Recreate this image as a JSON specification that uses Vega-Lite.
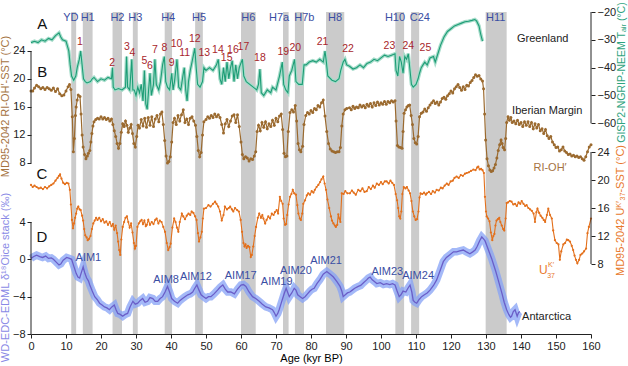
{
"$schema":"https://vega.github.io/schema/vega-lite/v6.json",
"width":560,"height":322,
"autosize":{"type":"none"},
"padding":{"left":31,"top":12,"right":37,"bottom":32},
"background":"white",
"config":{"view":{"stroke":null},"font":"Liberation Sans",
 "axis":{"grid":false,"labelFontSize":11,"labelColor":"#222","tickColor":"#222","domainColor":"#222","tickSize":4,"titleFontSize":11,"titleFontWeight":"normal","labelPadding":2}},
"datasets":{
"bands":[{"t":11.5,"t2":12.9},{"t":14.8,"t2":17.6},{"t":23.3,"t2":26.0},{"t":29.1,"t2":30.5},{"t":38.2,"t2":40.3},{"t":46.9,"t2":49.1},{"t":60.0,"t2":64.2},{"t":72.0,"t2":73.6},{"t":75.4,"t2":78.0},{"t":84.3,"t2":89.5},{"t":104.1,"t2":106.6},{"t":108.6,"t2":110.9},{"t":129.9,"t2":135.9}],
"hlab":[{"t":11.4,"v":-22.3,"s":"YD"},{"t":16.2,"v":-22.3,"s":"H1"},{"t":24.7,"v":-22.3,"s":"H2"},{"t":29.8,"v":-22.3,"s":"H3"},{"t":39.2,"v":-22.3,"s":"H4"},{"t":48.0,"v":-22.3,"s":"H5"},{"t":62.1,"v":-22.3,"s":"H6"},{"t":70.9,"v":-22.3,"s":"H7a"},{"t":78.1,"v":-22.3,"s":"H7b"},{"t":86.9,"v":-22.3,"s":"H8"},{"t":104.0,"v":-22.3,"s":"H10"},{"t":111.1,"v":-22.3,"s":"C24"},{"t":132.8,"v":-22.3,"s":"H11"}],
"numlab":[{"t":14.0,"v":-30.9,"s":"1"},{"t":23.2,"v":-38.4,"s":"2"},{"t":27.4,"v":-32.7,"s":"3"},{"t":29.0,"v":-34.6,"s":"4"},{"t":32.4,"v":-37.7,"s":"5"},{"t":34.0,"v":-39.5,"s":"6"},{"t":35.4,"v":-33.7,"s":"7"},{"t":38.1,"v":-33.0,"s":"8"},{"t":40.2,"v":-38.4,"s":"9"},{"t":41.6,"v":-31.6,"s":"10"},{"t":43.9,"v":-34.6,"s":"11"},{"t":46.8,"v":-29.8,"s":"12"},{"t":49.5,"v":-34.6,"s":"13"},{"t":53.4,"v":-33.7,"s":"14"},{"t":55.9,"v":-36.6,"s":"15"},{"t":57.7,"v":-33.7,"s":"16"},{"t":60.7,"v":-32.7,"s":"17"},{"t":65.4,"v":-36.4,"s":"18"},{"t":72.1,"v":-34.5,"s":"19"},{"t":75.5,"v":-32.8,"s":"20"},{"t":83.3,"v":-30.9,"s":"21"},{"t":90.6,"v":-33.3,"s":"22"},{"t":102.4,"v":-32.2,"s":"23"},{"t":107.8,"v":-32.1,"s":"24"},{"t":112.7,"v":-33.0,"s":"25"}],
"aimlab":[{"t":16.4,"v":0.17,"s":"AIM1"},{"t":38.6,"v":-2.21,"s":"AIM8"},{"t":47.1,"v":-1.93,"s":"AIM12"},{"t":59.9,"v":-1.75,"s":"AIM17"},{"t":70.2,"v":-2.46,"s":"AIM19"},{"t":75.7,"v":-1.22,"s":"AIM20"},{"t":84.3,"v":-0.15,"s":"AIM21"},{"t":101.8,"v":-1.33,"s":"AIM23"},{"t":110.6,"v":-1.79,"s":"AIM24"}],
"gis":[{"t":0,"v":-31},{"t":1,"v":-30.5},{"t":2,"v":-31},{"t":3,"v":-30},{"t":4,"v":-30.5},{"t":5,"v":-29.5},{"t":6,"v":-30},{"t":7,"v":-28.5},{"t":8,"v":-27.5},{"t":8.5,"v":-29},{"t":9,"v":-30},{"t":10,"v":-30.5},{"t":10.8,"v":-34},{"t":11.2,"v":-39},{"t":11.6,"v":-43},{"t":12.2,"v":-44.5},{"t":12.8,"v":-43},{"t":13.2,"v":-40},{"t":13.8,"v":-37},{"t":14.2,"v":-34},{"t":14.6,"v":-39},{"t":15,"v":-44},{"t":15.5,"v":-45},{"t":16,"v":-45.5},{"t":17,"v":-45},{"t":17.5,"v":-44},{"t":18,"v":-43.5},{"t":19,"v":-45},{"t":20,"v":-44},{"t":21,"v":-44.5},{"t":22,"v":-43.5},{"t":23,"v":-44},{"t":23.3,"v":-40},{"t":23.5,"v":-47},{"t":24,"v":-48},{"t":25,"v":-47.5},{"t":26,"v":-48},{"t":27,"v":-47},{"t":27.3,"v":-36},{"t":27.6,"v":-47},{"t":28.2,"v":-48},{"t":28.8,"v":-37},{"t":29.1,"v":-48},{"t":29.5,"v":-48},{"t":30,"v":-50},{"t":30.5,"v":-47},{"t":31,"v":-49},{"t":31.5,"v":-46},{"t":32,"v":-52},{"t":32.4,"v":-41},{"t":32.8,"v":-53},{"t":33.2,"v":-55},{"t":33.6,"v":-48},{"t":34,"v":-42},{"t":34.4,"v":-50},{"t":35,"v":-46},{"t":35.4,"v":-37},{"t":35.8,"v":-46},{"t":36.5,"v":-48},{"t":37,"v":-45},{"t":37.6,"v":-39},{"t":38.1,"v":-36},{"t":38.5,"v":-45},{"t":39,"v":-47},{"t":39.6,"v":-48},{"t":40.2,"v":-42},{"t":40.6,"v":-48},{"t":41,"v":-45},{"t":41.7,"v":-37},{"t":42.2,"v":-47},{"t":42.8,"v":-48},{"t":43.4,"v":-43},{"t":43.8,"v":-40},{"t":44.2,"v":-48},{"t":44.6,"v":-52},{"t":45,"v":-45},{"t":45.5,"v":-41},{"t":46,"v":-38},{"t":46.8,"v":-33},{"t":47.2,"v":-40},{"t":47.6,"v":-46},{"t":48.3,"v":-47},{"t":49,"v":-45},{"t":49.4,"v":-40},{"t":50,"v":-41},{"t":51,"v":-40},{"t":52,"v":-41},{"t":53,"v":-39},{"t":53.5,"v":-37},{"t":54,"v":-44},{"t":54.5,"v":-46},{"t":55,"v":-40},{"t":55.5,"v":-45},{"t":56,"v":-38},{"t":56.5,"v":-44},{"t":57,"v":-40},{"t":57.5,"v":-37.5},{"t":58,"v":-45},{"t":58.5,"v":-39},{"t":59,"v":-44},{"t":59.5,"v":-40},{"t":60.4,"v":-37},{"t":60.8,"v":-43},{"t":61.5,"v":-45},{"t":62.5,"v":-46},{"t":63.5,"v":-47},{"t":64.5,"v":-48},{"t":65,"v":-46},{"t":65.4,"v":-40.5},{"t":65.8,"v":-49},{"t":66.5,"v":-50},{"t":67.5,"v":-48},{"t":68.5,"v":-49},{"t":69,"v":-47},{"t":70,"v":-48},{"t":71,"v":-43},{"t":71.8,"v":-38},{"t":72.2,"v":-46},{"t":72.8,"v":-48},{"t":73.4,"v":-49},{"t":73.8,"v":-43},{"t":74.5,"v":-41},{"t":75.3,"v":-37},{"t":75.7,"v":-45},{"t":76.5,"v":-46},{"t":77.5,"v":-46},{"t":78,"v":-39},{"t":78.6,"v":-39},{"t":79.5,"v":-38},{"t":80.5,"v":-37.5},{"t":81.5,"v":-38},{"t":82.5,"v":-37},{"t":83.5,"v":-38},{"t":84,"v":-34},{"t":84.4,"v":-38},{"t":84.8,"v":-43},{"t":86,"v":-44.5},{"t":87,"v":-45},{"t":88,"v":-44},{"t":88.5,"v":-41},{"t":89.2,"v":-38},{"t":89.7,"v":-37},{"t":90.2,"v":-39},{"t":91,"v":-39.5},{"t":92,"v":-40.5},{"t":93,"v":-40},{"t":94,"v":-39},{"t":95,"v":-40},{"t":96,"v":-38.5},{"t":97,"v":-38},{"t":98,"v":-37},{"t":99,"v":-37.5},{"t":100,"v":-36.5},{"t":101,"v":-35.5},{"t":102,"v":-36},{"t":103,"v":-35.5},{"t":104,"v":-35},{"t":104.3,"v":-41},{"t":104.8,"v":-43},{"t":105.3,"v":-36},{"t":105.8,"v":-38},{"t":106.3,"v":-42},{"t":106.8,"v":-36},{"t":107.3,"v":-37},{"t":107.8,"v":-35},{"t":108.3,"v":-41},{"t":108.7,"v":-46},{"t":109.2,"v":-47},{"t":110,"v":-46},{"t":110.6,"v":-44},{"t":111,"v":-42},{"t":111.5,"v":-40},{"t":112,"v":-39},{"t":112.5,"v":-38},{"t":113.2,"v":-39},{"t":114,"v":-36.5},{"t":115,"v":-36},{"t":115.5,"v":-38},{"t":116,"v":-36},{"t":117,"v":-32},{"t":118,"v":-29},{"t":119,"v":-27},{"t":120,"v":-26},{"t":121,"v":-25},{"t":122,"v":-24.5},{"t":123,"v":-24},{"t":124,"v":-23.5},{"t":125,"v":-23.3},{"t":126,"v":-23},{"t":126.8,"v":-22.7},{"t":127.3,"v":-23.2},{"t":128,"v":-25},{"t":128.5,"v":-28},{"t":129,"v":-30.5}],
"rioh":[{"t":0,"v":18.3},{"t":0.5,"v":18.3},{"t":1,"v":18.7},{"t":1.6,"v":19.1},{"t":2.2,"v":18.9},{"t":2.8,"v":18.6},{"t":3.4,"v":18.8},{"t":4,"v":18.5},{"t":4.6,"v":18.8},{"t":5.2,"v":18.6},{"t":5.8,"v":18.4},{"t":6.4,"v":18.7},{"t":7,"v":18.2},{"t":7.6,"v":18.6},{"t":8.2,"v":17.9},{"t":8.8,"v":17.6},{"t":9.4,"v":17.7},{"t":10,"v":18.3},{"t":10.6,"v":18.9},{"t":11,"v":19.2},{"t":11.4,"v":18.5},{"t":11.8,"v":14.6},{"t":12.1,"v":9.6},{"t":12.4,"v":11.5},{"t":12.7,"v":14.8},{"t":12.9,"v":16},{"t":13.2,"v":17},{"t":13.5,"v":17.7},{"t":14,"v":17.5},{"t":14.3,"v":15},{"t":14.6,"v":12},{"t":14.9,"v":10.3},{"t":15.3,"v":9.2},{"t":15.7,"v":8.6},{"t":16.1,"v":9},{"t":16.4,"v":9.4},{"t":16.8,"v":9.8},{"t":17.1,"v":11},{"t":17.4,"v":12.2},{"t":17.7,"v":13.3},{"t":18,"v":13.9},{"t":18.5,"v":14.2},{"t":19,"v":14.4},{"t":19.5,"v":14.3},{"t":20,"v":14.6},{"t":20.5,"v":14.3},{"t":21,"v":14.5},{"t":21.5,"v":14.2},{"t":22,"v":14.4},{"t":22.5,"v":14},{"t":23,"v":14.3},{"t":23.4,"v":13.5},{"t":23.8,"v":12.6},{"t":24.2,"v":11.8},{"t":24.6,"v":10.8},{"t":25,"v":10.1},{"t":25.4,"v":10.8},{"t":25.8,"v":12.4},{"t":26.2,"v":13.6},{"t":26.6,"v":13.2},{"t":27,"v":14},{"t":27.4,"v":13.4},{"t":27.8,"v":12.4},{"t":28.2,"v":13},{"t":28.6,"v":13.5},{"t":29,"v":12.2},{"t":29.4,"v":10.8},{"t":29.8,"v":10.3},{"t":30.2,"v":11.8},{"t":30.6,"v":13.4},{"t":31,"v":13},{"t":31.5,"v":14.2},{"t":32,"v":13.3},{"t":32.5,"v":14.4},{"t":33,"v":13.1},{"t":33.5,"v":14.5},{"t":34,"v":13.4},{"t":34.5,"v":14.6},{"t":35,"v":13.2},{"t":35.5,"v":14.3},{"t":36,"v":14.8},{"t":36.5,"v":13.9},{"t":37,"v":15},{"t":37.4,"v":15.3},{"t":37.8,"v":13.5},{"t":38.2,"v":11.2},{"t":38.6,"v":9},{"t":39,"v":8},{"t":39.4,"v":8.2},{"t":39.8,"v":8.9},{"t":40.2,"v":11},{"t":40.6,"v":13.8},{"t":41,"v":14.4},{"t":41.5,"v":13.5},{"t":42,"v":14.8},{"t":42.5,"v":14},{"t":43,"v":14.9},{"t":43.5,"v":15.6},{"t":44,"v":13.8},{"t":44.5,"v":14.3},{"t":45,"v":13.5},{"t":45.5,"v":14.4},{"t":46,"v":14.6},{"t":46.5,"v":14},{"t":47,"v":13.4},{"t":47.4,"v":11.8},{"t":47.8,"v":9.8},{"t":48.2,"v":8.9},{"t":48.6,"v":9.5},{"t":49,"v":12},{"t":49.4,"v":13.9},{"t":50,"v":14.2},{"t":50.5,"v":14.6},{"t":51,"v":14.4},{"t":51.5,"v":14.8},{"t":52,"v":14.5},{"t":52.5,"v":15},{"t":53,"v":14.6},{"t":53.5,"v":14.9},{"t":54,"v":14.5},{"t":54.5,"v":13.5},{"t":55,"v":12.3},{"t":55.5,"v":13.6},{"t":56,"v":14.2},{"t":56.5,"v":13.2},{"t":57,"v":14},{"t":57.5,"v":14.7},{"t":58,"v":14.9},{"t":58.5,"v":13.8},{"t":59,"v":14.9},{"t":59.5,"v":13.2},{"t":60,"v":11},{"t":60.4,"v":9.2},{"t":60.8,"v":8.6},{"t":61.3,"v":8.9},{"t":61.8,"v":8.7},{"t":62.3,"v":8.3},{"t":62.8,"v":8.6},{"t":63.3,"v":8.5},{"t":63.8,"v":9},{"t":64.2,"v":9.6},{"t":64.6,"v":12.5},{"t":65,"v":13.4},{"t":65.5,"v":12.6},{"t":66,"v":13.8},{"t":66.5,"v":13.1},{"t":67,"v":13.9},{"t":67.5,"v":12.9},{"t":68,"v":13.6},{"t":68.5,"v":13.2},{"t":69,"v":14.1},{"t":69.5,"v":13.4},{"t":70,"v":14.4},{"t":70.5,"v":13.9},{"t":71,"v":14.7},{"t":71.5,"v":15},{"t":71.9,"v":12.8},{"t":72.3,"v":9.4},{"t":72.7,"v":8.9},{"t":73.1,"v":9},{"t":73.5,"v":12.5},{"t":74,"v":15.2},{"t":74.5,"v":15.6},{"t":75,"v":15.3},{"t":75.5,"v":16.2},{"t":75.9,"v":14},{"t":76.3,"v":10.8},{"t":76.7,"v":9.9},{"t":77.1,"v":9.6},{"t":77.6,"v":10.4},{"t":78,"v":13.5},{"t":78.5,"v":14.8},{"t":79,"v":15.2},{"t":79.5,"v":15},{"t":80,"v":15.5},{"t":80.5,"v":15.2},{"t":81,"v":15.8},{"t":81.5,"v":15.6},{"t":82,"v":16.2},{"t":82.5,"v":16},{"t":83,"v":16.6},{"t":83.5,"v":17},{"t":84,"v":14.7},{"t":84.5,"v":12.5},{"t":85,"v":10.8},{"t":85.5,"v":10},{"t":86,"v":9.7},{"t":86.5,"v":9.6},{"t":87,"v":9.5},{"t":87.5,"v":9.6},{"t":88,"v":9.6},{"t":88.4,"v":10.2},{"t":88.8,"v":13.3},{"t":89.2,"v":15},{"t":89.7,"v":15.6},{"t":90.2,"v":15.8},{"t":91,"v":15.9},{"t":91.5,"v":15.6},{"t":92,"v":16.1},{"t":92.5,"v":15.8},{"t":93,"v":16},{"t":93.5,"v":15.9},{"t":94,"v":16.3},{"t":94.5,"v":16},{"t":95,"v":16.2},{"t":95.5,"v":15.9},{"t":96,"v":16.4},{"t":96.5,"v":16.1},{"t":97,"v":16.5},{"t":97.5,"v":16},{"t":98,"v":16.6},{"t":98.5,"v":16.2},{"t":99,"v":16.7},{"t":99.5,"v":16.3},{"t":100,"v":16.6},{"t":100.5,"v":16.4},{"t":101,"v":16.8},{"t":101.5,"v":16.4},{"t":102,"v":16.8},{"t":102.5,"v":16.6},{"t":103,"v":16.9},{"t":103.5,"v":16.7},{"t":104,"v":16.9},{"t":104.3,"v":14},{"t":104.7,"v":10.5},{"t":105.1,"v":10.3},{"t":105.6,"v":10.2},{"t":106,"v":10.1},{"t":106.3,"v":12.5},{"t":106.6,"v":15.1},{"t":107,"v":15.6},{"t":107.4,"v":16},{"t":107.8,"v":16.2},{"t":108.2,"v":16.3},{"t":108.6,"v":14.8},{"t":109,"v":13.5},{"t":109.4,"v":11.5},{"t":109.8,"v":10.9},{"t":110.2,"v":10.7},{"t":110.6,"v":11.8},{"t":111,"v":14.6},{"t":111.5,"v":15.1},{"t":112,"v":15.3},{"t":112.5,"v":15.7},{"t":113,"v":15.4},{"t":113.5,"v":15.9},{"t":114,"v":16.3},{"t":114.5,"v":16.6},{"t":115,"v":16.9},{"t":115.5,"v":16.5},{"t":116,"v":16.7},{"t":116.5,"v":16.3},{"t":117,"v":16.7},{"t":117.5,"v":17.2},{"t":118,"v":17.4},{"t":118.5,"v":17.1},{"t":119,"v":17.6},{"t":119.5,"v":17.9},{"t":120,"v":18.3},{"t":120.5,"v":18},{"t":121,"v":18.6},{"t":121.5,"v":18.9},{"t":122,"v":19.2},{"t":122.5,"v":18.8},{"t":123,"v":18.4},{"t":123.5,"v":18.9},{"t":124,"v":18.5},{"t":124.5,"v":19.1},{"t":125,"v":19},{"t":125.5,"v":19.5},{"t":126,"v":19.8},{"t":126.5,"v":20.2},{"t":127,"v":20.6},{"t":127.5,"v":20.4},{"t":128,"v":20.5},{"t":128.5,"v":20},{"t":129,"v":19.7},{"t":129.3,"v":18.6},{"t":129.6,"v":15},{"t":129.9,"v":11.3},{"t":130.3,"v":8.6},{"t":130.7,"v":7.6},{"t":131.1,"v":7},{"t":131.5,"v":6.8},{"t":131.9,"v":6.9},{"t":132.3,"v":7.3},{"t":132.7,"v":7.8},{"t":133.1,"v":8.7},{"t":133.5,"v":9.8},{"t":133.9,"v":10.6},{"t":134.3,"v":11.3},{"t":134.6,"v":10.8},{"t":134.9,"v":10.2},{"t":135.3,"v":9.9},{"t":135.6,"v":11.5},{"t":135.9,"v":13.8},{"t":136.3,"v":14.6},{"t":136.7,"v":14.1},{"t":137.1,"v":14.5},{"t":137.5,"v":13.8},{"t":138,"v":14},{"t":138.5,"v":13.6},{"t":139,"v":14.1},{"t":139.5,"v":13.5},{"t":140,"v":13.8},{"t":140.5,"v":13.2},{"t":141,"v":13.9},{"t":141.5,"v":13.4},{"t":142,"v":13.9},{"t":142.5,"v":13.2},{"t":143,"v":13.8},{"t":143.5,"v":12.9},{"t":144,"v":13.6},{"t":144.5,"v":13},{"t":145,"v":13.5},{"t":145.5,"v":12.6},{"t":146,"v":12.9},{"t":146.5,"v":12.2},{"t":147,"v":12.8},{"t":147.5,"v":11.9},{"t":148,"v":11.5},{"t":148.5,"v":11.8},{"t":149,"v":11},{"t":149.5,"v":10.6},{"t":150,"v":10.2},{"t":150.5,"v":10.3},{"t":151,"v":9.7},{"t":151.5,"v":9.9},{"t":152,"v":10.3},{"t":152.5,"v":9.7},{"t":153,"v":9.5},{"t":153.5,"v":9.2},{"t":154,"v":9.3},{"t":154.5,"v":9},{"t":155,"v":9.1},{"t":155.5,"v":8.9},{"t":156,"v":9},{"t":156.5,"v":8.8},{"t":157,"v":8.9},{"t":157.5,"v":8.6},{"t":158,"v":8.4},{"t":158.5,"v":8.9},{"t":159,"v":9.6},{"t":159.5,"v":10.3},{"t":160,"v":10.6}],
"uk":[{"t":0,"v":19.3},{"t":0.5,"v":19},{"t":1,"v":19.2},{"t":1.6,"v":19},{"t":2.2,"v":18.8},{"t":2.8,"v":18.9},{"t":3.4,"v":18.7},{"t":4,"v":19},{"t":4.6,"v":18.8},{"t":5.2,"v":19.1},{"t":5.8,"v":19.3},{"t":6.4,"v":19.5},{"t":7,"v":19.9},{"t":7.6,"v":20.3},{"t":8,"v":20.6},{"t":8.3,"v":20.8},{"t":8.7,"v":20.2},{"t":9.2,"v":19.6},{"t":9.7,"v":19.4},{"t":10.2,"v":19.6},{"t":10.7,"v":19.5},{"t":11.1,"v":18.6},{"t":11.4,"v":16.5},{"t":11.7,"v":14.3},{"t":12,"v":13.1},{"t":12.3,"v":13.8},{"t":12.6,"v":14.6},{"t":12.9,"v":15.2},{"t":13.2,"v":15.9},{"t":13.5,"v":16.2},{"t":13.9,"v":15.8},{"t":14.2,"v":15.7},{"t":14.6,"v":14.9},{"t":14.9,"v":14.2},{"t":15.2,"v":13},{"t":15.5,"v":12.1},{"t":15.9,"v":11.8},{"t":16.2,"v":11.4},{"t":16.6,"v":11.6},{"t":17,"v":12},{"t":17.4,"v":13},{"t":17.8,"v":13.8},{"t":18.2,"v":14.2},{"t":18.6,"v":14.6},{"t":19,"v":14.3},{"t":19.5,"v":14.6},{"t":20,"v":14.1},{"t":20.5,"v":14.4},{"t":21,"v":13.9},{"t":21.5,"v":14.1},{"t":22,"v":13.6},{"t":22.5,"v":14},{"t":23,"v":13.4},{"t":23.4,"v":13.7},{"t":23.8,"v":12.9},{"t":24.2,"v":13.5},{"t":24.6,"v":12.4},{"t":24.9,"v":11.2},{"t":25.2,"v":10},{"t":25.5,"v":9.3},{"t":25.8,"v":11.5},{"t":26.2,"v":13.3},{"t":26.6,"v":14},{"t":27,"v":14.6},{"t":27.4,"v":14.8},{"t":27.8,"v":14},{"t":28.2,"v":13.2},{"t":28.6,"v":13.8},{"t":29,"v":12.5},{"t":29.4,"v":11},{"t":29.7,"v":10.2},{"t":30,"v":10.6},{"t":30.4,"v":13.3},{"t":30.8,"v":13.8},{"t":31.2,"v":14.1},{"t":31.6,"v":14.3},{"t":32,"v":13.7},{"t":32.4,"v":14.2},{"t":32.8,"v":13.4},{"t":33.1,"v":13.6},{"t":33.5,"v":14.3},{"t":34,"v":13.6},{"t":34.5,"v":14},{"t":35,"v":13.7},{"t":35.5,"v":14.3},{"t":35.9,"v":14.5},{"t":36.4,"v":13.8},{"t":36.8,"v":14.2},{"t":37.3,"v":14},{"t":37.8,"v":13.3},{"t":38.3,"v":12.6},{"t":38.8,"v":11},{"t":39.2,"v":10},{"t":39.6,"v":10.4},{"t":39.9,"v":10.9},{"t":40.4,"v":13.2},{"t":40.9,"v":14.5},{"t":41.3,"v":14},{"t":41.7,"v":13.2},{"t":42.1,"v":12.6},{"t":42.5,"v":14},{"t":43.1,"v":15.2},{"t":43.5,"v":14.8},{"t":44,"v":14.4},{"t":44.5,"v":14.9},{"t":45,"v":15.2},{"t":45.5,"v":15},{"t":45.9,"v":15.5},{"t":46.4,"v":15.3},{"t":46.9,"v":14.8},{"t":47.3,"v":14.3},{"t":47.7,"v":12.4},{"t":48,"v":11.2},{"t":48.4,"v":11.8},{"t":48.8,"v":12.6},{"t":49.1,"v":14.5},{"t":49.4,"v":15.9},{"t":50,"v":16},{"t":50.7,"v":16.4},{"t":51.3,"v":16.2},{"t":52,"v":16.6},{"t":52.6,"v":16.9},{"t":53,"v":16.6},{"t":53.5,"v":16.2},{"t":54,"v":15.5},{"t":54.5,"v":14.2},{"t":55,"v":15},{"t":55.4,"v":16.2},{"t":56,"v":15.8},{"t":56.5,"v":16},{"t":56.9,"v":16.2},{"t":57.4,"v":15.8},{"t":57.8,"v":15.5},{"t":58.3,"v":16},{"t":58.9,"v":15.7},{"t":59.4,"v":15.5},{"t":59.9,"v":14.3},{"t":60.3,"v":12.6},{"t":60.7,"v":11},{"t":61,"v":10.5},{"t":61.3,"v":10.8},{"t":61.6,"v":10.3},{"t":62,"v":10.6},{"t":62.4,"v":10.4},{"t":62.8,"v":9},{"t":63.1,"v":9.3},{"t":63.5,"v":10.5},{"t":63.9,"v":12},{"t":64.3,"v":13.3},{"t":64.8,"v":14.6},{"t":65.2,"v":15.2},{"t":65.7,"v":14.6},{"t":66.1,"v":15},{"t":66.4,"v":14.5},{"t":66.9,"v":13.8},{"t":67.3,"v":14.3},{"t":67.8,"v":14.8},{"t":68.3,"v":14.5},{"t":68.8,"v":15.2},{"t":69.3,"v":15},{"t":69.7,"v":15.4},{"t":70.2,"v":15.7},{"t":70.6,"v":15.2},{"t":71.1,"v":17.6},{"t":71.5,"v":17},{"t":71.9,"v":16.6},{"t":72.2,"v":14.5},{"t":72.6,"v":13.6},{"t":72.9,"v":13.7},{"t":73.2,"v":15},{"t":73.6,"v":16.5},{"t":74,"v":17.6},{"t":74.4,"v":18},{"t":74.8,"v":18.6},{"t":75.2,"v":18.1},{"t":75.7,"v":17.9},{"t":76.1,"v":16.4},{"t":76.4,"v":15.2},{"t":76.8,"v":14.5},{"t":77.1,"v":14.3},{"t":77.5,"v":15.2},{"t":77.8,"v":16.6},{"t":78.3,"v":17.1},{"t":78.8,"v":17.8},{"t":79.2,"v":18.1},{"t":79.7,"v":17.9},{"t":80.2,"v":18.4},{"t":80.7,"v":18.2},{"t":81.1,"v":18.6},{"t":81.6,"v":19},{"t":82.1,"v":19.3},{"t":82.6,"v":19.7},{"t":83,"v":20.1},{"t":83.5,"v":20.5},{"t":83.9,"v":19.5},{"t":84.3,"v":18.6},{"t":84.7,"v":17.2},{"t":85.2,"v":16},{"t":85.7,"v":14.8},{"t":86,"v":14.2},{"t":86.4,"v":13.8},{"t":86.8,"v":13.5},{"t":87.1,"v":13.3},{"t":87.5,"v":13.6},{"t":87.8,"v":15.1},{"t":88.1,"v":14.5},{"t":88.4,"v":14},{"t":88.8,"v":18.1},{"t":89.3,"v":18},{"t":89.8,"v":18.4},{"t":90.4,"v":18.1},{"t":91.1,"v":18.1},{"t":91.7,"v":18.5},{"t":92.2,"v":18.2},{"t":92.8,"v":17.9},{"t":93.5,"v":18.6},{"t":94.1,"v":18.4},{"t":94.7,"v":18.8},{"t":95.3,"v":18.3},{"t":95.9,"v":18.4},{"t":96.5,"v":19},{"t":97.1,"v":18.7},{"t":97.7,"v":19.2},{"t":98.2,"v":18.9},{"t":98.8,"v":19.5},{"t":99.4,"v":19.3},{"t":100,"v":19.7},{"t":100.5,"v":19.4},{"t":101.1,"v":19.8},{"t":101.6,"v":19.8},{"t":102.2,"v":19.5},{"t":102.7,"v":19.9},{"t":103.2,"v":19.6},{"t":103.7,"v":19.3},{"t":104.2,"v":18},{"t":104.6,"v":17.1},{"t":104.9,"v":16},{"t":105.2,"v":14.8},{"t":105.5,"v":14.5},{"t":105.8,"v":15.5},{"t":106.1,"v":18},{"t":106.5,"v":19},{"t":107,"v":18.8},{"t":107.4,"v":19},{"t":107.9,"v":18.5},{"t":108.3,"v":18.1},{"t":108.7,"v":17},{"t":109.1,"v":15.5},{"t":109.5,"v":14.8},{"t":109.9,"v":14.3},{"t":110.3,"v":14.4},{"t":110.7,"v":15.5},{"t":111,"v":17.5},{"t":111.3,"v":18.1},{"t":111.8,"v":18},{"t":112.3,"v":18.2},{"t":112.8,"v":17.9},{"t":113.1,"v":18.1},{"t":113.7,"v":18.3},{"t":114.3,"v":18},{"t":114.8,"v":18.4},{"t":115.4,"v":18.2},{"t":115.9,"v":18.6},{"t":116.5,"v":18.5},{"t":117.1,"v":18.9},{"t":117.6,"v":18.8},{"t":118.2,"v":19.2},{"t":118.8,"v":19.5},{"t":119.3,"v":19.3},{"t":119.9,"v":19.8},{"t":120.5,"v":19.9},{"t":121,"v":20.3},{"t":121.6,"v":20.5},{"t":122.2,"v":20.3},{"t":122.8,"v":20.7},{"t":123.4,"v":20.6},{"t":124,"v":20.9},{"t":124.5,"v":21},{"t":125.1,"v":21.1},{"t":125.7,"v":21.3},{"t":126.4,"v":21.5},{"t":127,"v":21.4},{"t":127.5,"v":21.8},{"t":127.8,"v":21.9},{"t":128.2,"v":21.5},{"t":128.6,"v":21.6},{"t":129,"v":21.4},{"t":129.4,"v":21},{"t":129.7,"v":17.6},{"t":130,"v":15.5},{"t":130.2,"v":14.8},{"t":130.6,"v":14.5},{"t":131,"v":14.1},{"t":131.4,"v":12.5},{"t":131.8,"v":11.4},{"t":132.1,"v":12},{"t":132.4,"v":12.3},{"t":132.7,"v":13.5},{"t":133,"v":14.2},{"t":133.4,"v":14.4},{"t":133.8,"v":14.6},{"t":134.1,"v":14},{"t":134.5,"v":13.5},{"t":134.9,"v":13},{"t":135.2,"v":12.8},{"t":135.6,"v":14.5},{"t":135.9,"v":16.7},{"t":136.3,"v":16.8},{"t":136.8,"v":17},{"t":137.3,"v":16.9},{"t":137.8,"v":16.5},{"t":138.3,"v":16.6},{"t":138.8,"v":16.3},{"t":139.3,"v":16.8},{"t":139.8,"v":16.6},{"t":140.2,"v":17},{"t":140.7,"v":16.6},{"t":141.2,"v":16.3},{"t":141.6,"v":16.4},{"t":142.1,"v":16},{"t":142.6,"v":15.8},{"t":143.1,"v":15.6},{"t":143.6,"v":15.2},{"t":144,"v":14},{"t":144.4,"v":15.4},{"t":144.7,"v":15.9},{"t":145.2,"v":15.3},{"t":145.6,"v":14.9},{"t":146.1,"v":14.6},{"t":146.5,"v":14.3},{"t":146.9,"v":14},{"t":147.4,"v":15},{"t":147.8,"v":15.9},{"t":148.3,"v":15},{"t":148.8,"v":14.5},{"t":149.2,"v":12.8},{"t":149.7,"v":11.4},{"t":150.2,"v":11},{"t":150.7,"v":10.8},{"t":151.1,"v":8.6},{"t":151.5,"v":9.8},{"t":152.1,"v":10.8},{"t":152.6,"v":11},{"t":153.1,"v":11.5},{"t":153.5,"v":11.4},{"t":154,"v":11.2},{"t":154.5,"v":10.6},{"t":154.9,"v":10},{"t":155.3,"v":9.2},{"t":155.7,"v":8.6},{"t":156.1,"v":8.1},{"t":156.6,"v":8.6},{"t":157,"v":9.3},{"t":157.5,"v":9.5},{"t":158,"v":9.8},{"t":158.6,"v":10.2},{"t":159,"v":12.4},{"t":159.4,"v":13.3},{"t":160,"v":14.5}],
"ant":[{"t":0,"v":0.1},{"t":0.8,"v":0.3},{"t":1.6,"v":0.45},{"t":2.5,"v":0.3},{"t":3.3,"v":0.2},{"t":4.2,"v":0.35},{"t":5,"v":0.1},{"t":5.8,"v":0.15},{"t":6.4,"v":0},{"t":7.2,"v":-0.3},{"t":8,"v":-0.6},{"t":8.5,"v":-0.5},{"t":9.2,"v":-0.1},{"t":10.2,"v":0.2},{"t":11,"v":0.1},{"t":11.6,"v":0},{"t":12.2,"v":-0.7},{"t":12.9,"v":-1.5},{"t":13.4,"v":-1.9},{"t":13.9,"v":-2},{"t":14.4,"v":-1.4},{"t":14.9,"v":-0.8},{"t":15.4,"v":-1.5},{"t":15.9,"v":-2},{"t":16.4,"v":-2.3},{"t":16.8,"v":-2.75},{"t":17.5,"v":-3.4},{"t":18.2,"v":-4},{"t":18.9,"v":-4.3},{"t":19.6,"v":-4.7},{"t":20.3,"v":-4.9},{"t":21,"v":-5.1},{"t":21.7,"v":-5.2},{"t":22.4,"v":-5.4},{"t":23.1,"v":-5.1},{"t":23.8,"v":-4.9},{"t":24.3,"v":-5.4},{"t":24.8,"v":-5.8},{"t":25.5,"v":-5.9},{"t":26.2,"v":-6.1},{"t":26.9,"v":-5.9},{"t":27.6,"v":-5.8},{"t":28.3,"v":-5.1},{"t":29.1,"v":-4.5},{"t":29.8,"v":-4.8},{"t":30.5,"v":-4.7},{"t":31.2,"v":-4.4},{"t":31.9,"v":-4.2},{"t":32.6,"v":-4.6},{"t":33.3,"v":-4.5},{"t":34,"v":-4.1},{"t":34.8,"v":-4.2},{"t":35.5,"v":-4.5},{"t":36.2,"v":-4.5},{"t":36.9,"v":-4.2},{"t":37.6,"v":-4},{"t":38.3,"v":-3.5},{"t":39,"v":-2.9},{"t":39.6,"v":-3.5},{"t":40.2,"v":-4.2},{"t":41,"v":-4.5},{"t":41.9,"v":-4.7},{"t":42.6,"v":-4.4},{"t":43.3,"v":-4.2},{"t":44,"v":-4},{"t":44.8,"v":-3.8},{"t":45.5,"v":-3.7},{"t":46.2,"v":-3.5},{"t":46.8,"v":-3.1},{"t":47.4,"v":-2.75},{"t":48,"v":-3.3},{"t":48.6,"v":-3.8},{"t":49.3,"v":-4},{"t":50,"v":-4.2},{"t":50.7,"v":-4},{"t":51.4,"v":-4},{"t":52.3,"v":-3.7},{"t":53.3,"v":-3.3},{"t":54,"v":-3},{"t":54.8,"v":-2.75},{"t":55.5,"v":-3.2},{"t":56.2,"v":-3.5},{"t":57.1,"v":-3.5},{"t":58.1,"v":-3.7},{"t":59,"v":-3.2},{"t":60,"v":-2.75},{"t":60.7,"v":-2.7},{"t":61.4,"v":-2.9},{"t":62.3,"v":-3.5},{"t":63.3,"v":-4},{"t":64.2,"v":-4.2},{"t":65.2,"v":-4.5},{"t":66.1,"v":-4.8},{"t":67.1,"v":-5.1},{"t":68,"v":-5.2},{"t":69,"v":-5.4},{"t":69.5,"v":-5.7},{"t":70,"v":-6.1},{"t":70.5,"v":-5.8},{"t":70.9,"v":-5.4},{"t":71.4,"v":-4.8},{"t":71.9,"v":-4.2},{"t":72.4,"v":-3.6},{"t":72.9,"v":-3.1},{"t":73.4,"v":-3.6},{"t":73.8,"v":-4},{"t":74.5,"v":-3.6},{"t":75.2,"v":-3.1},{"t":75.7,"v":-3.3},{"t":76.2,"v":-3.8},{"t":76.9,"v":-4},{"t":77.6,"v":-4.2},{"t":78.3,"v":-4},{"t":79,"v":-3.7},{"t":79.7,"v":-3.4},{"t":80.3,"v":-3.2},{"t":80.9,"v":-3.1},{"t":81.7,"v":-2.6},{"t":82.5,"v":-2.2},{"t":83.5,"v":-1.6},{"t":84.5,"v":-1.3},{"t":85.5,"v":-1.6},{"t":86.4,"v":-1.9},{"t":87.4,"v":-2.4},{"t":88.3,"v":-2.9},{"t":88.8,"v":-3.4},{"t":89.2,"v":-4},{"t":89.8,"v":-3.8},{"t":90.4,"v":-3.6},{"t":91.1,"v":-3.5},{"t":91.8,"v":-3.3},{"t":92.5,"v":-3.1},{"t":93.5,"v":-2.9},{"t":94.2,"v":-2.8},{"t":95,"v":-2.5},{"t":95.9,"v":-2.2},{"t":96.4,"v":-2},{"t":96.9,"v":-1.9},{"t":97.5,"v":-2.2},{"t":98.2,"v":-2.4},{"t":98.8,"v":-2.6},{"t":99.8,"v":-2.5},{"t":100.7,"v":-2.7},{"t":101.6,"v":-2.6},{"t":102.5,"v":-2.7},{"t":103.3,"v":-2.6},{"t":104,"v":-2.75},{"t":104.6,"v":-3.4},{"t":105.2,"v":-4},{"t":105.7,"v":-3.8},{"t":106.3,"v":-3.4},{"t":107.1,"v":-3.5},{"t":107.7,"v":-3.1},{"t":108.3,"v":-2.75},{"t":108.8,"v":-3.5},{"t":109.2,"v":-4.4},{"t":109.7,"v":-4.6},{"t":110.2,"v":-4.7},{"t":110.9,"v":-4.3},{"t":111.6,"v":-4},{"t":112.4,"v":-3.8},{"t":113.2,"v":-3.6},{"t":114,"v":-3.3},{"t":115,"v":-2.8},{"t":115.9,"v":-2.2},{"t":116.9,"v":-1.2},{"t":117.8,"v":-0.25},{"t":118.7,"v":0.2},{"t":119.7,"v":0.5},{"t":120.7,"v":0.8},{"t":121.6,"v":0.8},{"t":122.5,"v":0.9},{"t":123.5,"v":1},{"t":124.4,"v":0.8},{"t":125.4,"v":0.6},{"t":126.2,"v":0.8},{"t":126.9,"v":1},{"t":127.5,"v":1.4},{"t":128.2,"v":2},{"t":128.8,"v":2.4},{"t":129.3,"v":2.2},{"t":129.7,"v":2},{"t":130.2,"v":1.5},{"t":130.7,"v":1},{"t":131.2,"v":0.5},{"t":131.6,"v":0.1},{"t":132.2,"v":-0.6},{"t":132.8,"v":-1.3},{"t":133.4,"v":-2.1},{"t":134,"v":-2.9},{"t":134.6,"v":-3.7},{"t":135.2,"v":-4.6},{"t":135.9,"v":-5.4},{"t":136.5,"v":-5.9},{"t":137,"v":-6.2},{"t":137.3,"v":-6.1},{"t":137.8,"v":-5.6},{"t":138.3,"v":-5.4},{"t":138.9,"v":-6.1},{"t":139.3,"v":-5.7},{"t":139.7,"v":-5.6}]
},
"encoding":{"x":{"field":"t","type":"quantitative","scale":{"domain":[0,160],"nice":false,"zero":false},"axis":{"values":[0,10,20,30,40,50,60,70,80,90,100,110,120,130,140,150,160],"title":"Age (kyr BP)","titlePadding":1,"labelFlush":false}}},
"layer":[
 {"data":{"name":"bands"},"mark":{"type":"rect","color":"#cbcbcb"},"encoding":{"x2":{"field":"t2"}}},
 {"encoding":{"y":{"field":"v","type":"quantitative","scale":{"domain":[-135.7,-20],"nice":false,"zero":false},"axis":{"orient":"right","values":[-20,-30,-40,-50,-60],"domain":false,"title":"GISP2-NGRIP-NEEM Tₐᵢᵣ (°C)","titleColor":"#2ea37e","titleFontSize":10.5,"titleAngle":-90,"titleAlign":"center","titleBaseline":"middle","titleX":30,"titleY":60}}},
  "layer":[
   {"data":{"name":"gis"},"mark":{"type":"line","stroke":"#a6dcca","strokeWidth":3.5}},
   {"data":{"name":"gis"},"mark":{"type":"line","stroke":"#1d9d76","strokeWidth":1.1}},
   {"data":{"values":[{"t":160,"v":-20},{"t":160,"v":-60}]},"mark":{"type":"line","stroke":"#222","strokeWidth":1}},
   {"data":{"name":"hlab"},"mark":{"type":"text","fontSize":11,"color":"#3a4ea3"},"encoding":{"text":{"field":"s"}}},
   {"data":{"name":"numlab"},"mark":{"type":"text","fontSize":10.5,"color":"#a8262c"},"encoding":{"text":{"field":"s"}}},
   {"data":{"values":[{"t":3.2,"v":-24.4,"s":"A"}]},"mark":{"type":"text","fontSize":15,"color":"#111"},"encoding":{"text":{"field":"s"}}},
   {"data":{"values":[{"t":146.2,"v":-29.8,"s":"Greenland"}]},"mark":{"type":"text","fontSize":11,"color":"#222"},"encoding":{"text":{"field":"s"}}}
  ]},
 {"encoding":{"y":{"field":"v","type":"quantitative","scale":{"domain":[-16.43,29.57],"nice":false,"zero":false},"axis":{"orient":"left","values":[8,12,16,20,24],"domain":false,"title":"MD95-2042 RI-OH′-SST (°C)","titleColor":"#a5733f","titleAngle":-90,"titleAlign":"center","titleBaseline":"middle","titleX":-26,"titleY":94}}},
  "layer":[
   {"data":{"name":"rioh"},"mark":{"type":"line","stroke":"#9b6a2f","strokeWidth":1.2,"point":{"filled":true,"size":9,"color":"#9b6a2f"}}},
   {"data":{"values":[{"t":0,"v":24},{"t":0,"v":8}]},"mark":{"type":"line","stroke":"#222","strokeWidth":1}},
   {"data":{"values":[{"t":3.2,"v":21.0,"s":"B"}]},"mark":{"type":"text","fontSize":15,"color":"#111"},"encoding":{"text":{"field":"s"}}},
   {"data":{"values":[{"t":147.5,"v":15.4,"s":"Iberian Margin"}]},"mark":{"type":"text","fontSize":11,"color":"#222"},"encoding":{"text":{"field":"s"}}},
   {"data":{"values":[{"t":148.3,"v":7.24,"s":"RI-OH′"}]},"mark":{"type":"text","fontSize":11,"color":"#a5733f"},"encoding":{"text":{"field":"s"}}}
  ]},
 {"encoding":{"y":{"field":"v","type":"quantitative","scale":{"domain":[-2,44],"nice":false,"zero":false},"axis":{"orient":"right","values":[8,12,16,20,24],"domain":false,"title":"MD95-2042 Uᴷ′₃₇-SST (°C)","titleColor":"#e8782b","titleAngle":-90,"titleAlign":"center","titleBaseline":"middle","titleX":29,"titleY":198}}},
  "layer":[
   {"data":{"name":"uk"},"mark":{"type":"line","stroke":"#e3701c","strokeWidth":1.1,"point":{"filled":true,"size":5,"color":"#e3701c"}}},
   {"data":{"values":[{"t":160,"v":24},{"t":160,"v":8}]},"mark":{"type":"line","stroke":"#222","strokeWidth":1}},
   {"data":{"values":[{"t":3.1,"v":20.9,"s":"C"}]},"mark":{"type":"text","fontSize":15,"color":"#111"},"encoding":{"text":{"field":"s"}}},
   {"data":{"values":[{"t":146.4,"v":7.14,"s":"U"}]},"mark":{"type":"text","fontSize":12,"color":"#e8782b"},"encoding":{"text":{"field":"s"}}},
   {"data":{"values":[{"t":148.6,"v":7.9,"s":"K′"},{"t":148.6,"v":6.3,"s":"37"}]},"mark":{"type":"text","fontSize":7,"color":"#e8782b"},"encoding":{"text":{"field":"s"}}}
  ]},
 {"encoding":{"y":{"field":"v","type":"quantitative","scale":{"domain":[-8,26.5],"nice":false,"zero":false},"axis":{"orient":"left","values":[-8,-4,0,4],"domain":false,"title":"WD-EDC-EDML δ¹⁸Oice stack (‰)","titleColor":"#8a8ae6","titleAngle":-90,"titleAlign":"center","titleBaseline":"middle","titleX":-26,"titleY":265}}},
  "layer":[
   {"data":{"name":"ant"},"mark":{"type":"line","stroke":"#86a2f6","strokeWidth":7.5,"opacity":0.75}},
   {"data":{"name":"ant"},"mark":{"type":"line","stroke":"#6a5ec8","strokeWidth":1.3}},
   {"data":{"values":[{"t":0,"v":4},{"t":0,"v":-8}]},"mark":{"type":"line","stroke":"#222","strokeWidth":1}},
   {"data":{"values":[{"t":3.1,"v":2.43,"s":"D"}]},"mark":{"type":"text","fontSize":15,"color":"#111"},"encoding":{"text":{"field":"s"}}},
   {"data":{"name":"aimlab"},"mark":{"type":"text","fontSize":11,"color":"#3a4ea3"},"encoding":{"text":{"field":"s"}}},
   {"data":{"values":[{"t":147.3,"v":-6.18,"s":"Antarctica"}]},"mark":{"type":"text","fontSize":11,"color":"#222"},"encoding":{"text":{"field":"s"}}}
  ]}
],
"resolve":{"scale":{"y":"independent"},"axis":{"y":"independent"}}
}
